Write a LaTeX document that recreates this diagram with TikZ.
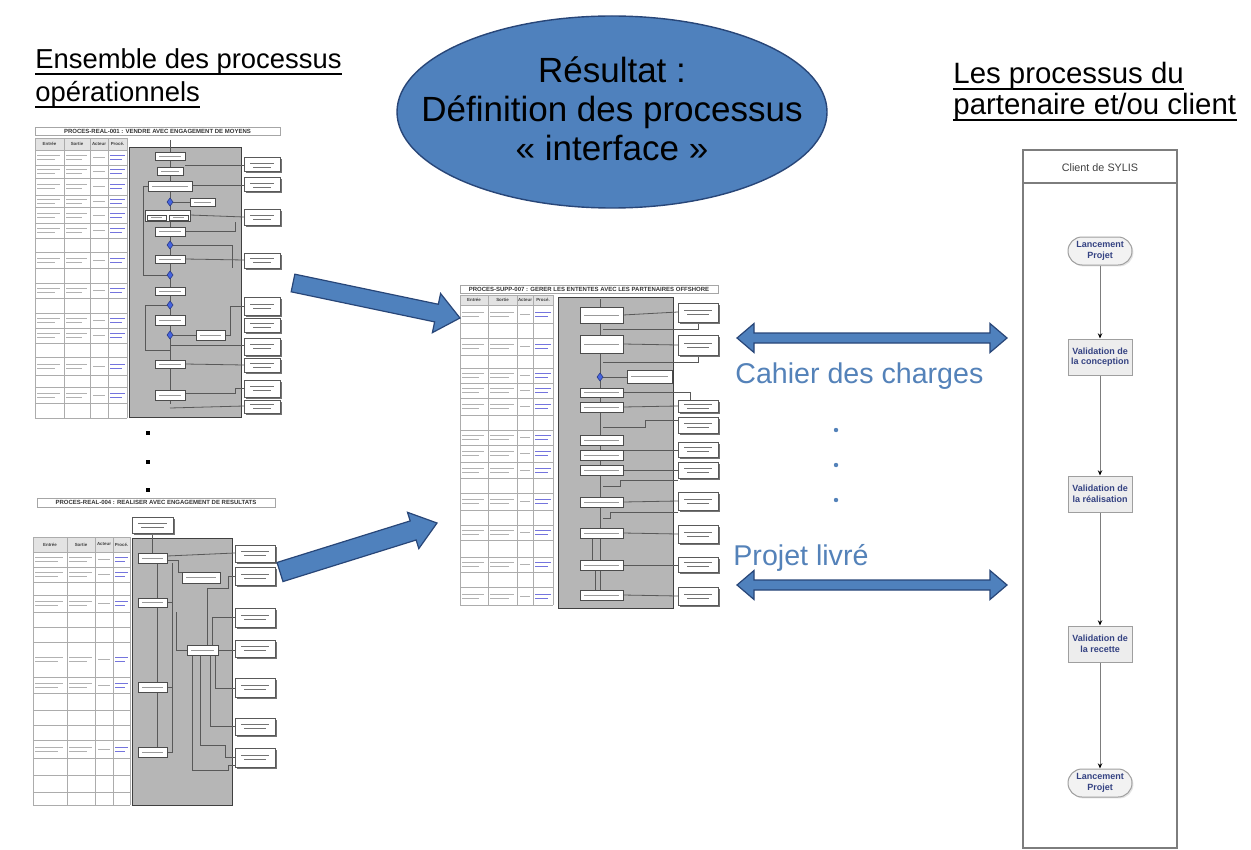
\documentclass[tikz,border=0pt]{standalone}
\usepackage{fontspec}
\setmainfont{Liberation Sans}
\usetikzlibrary{shapes.geometric,arrows.meta,calc,shadows}
\definecolor{slideblue}{RGB}{79,129,189}
\definecolor{slidebluedark}{RGB}{40,70,120}
\definecolor{bluetext}{RGB}{84,130,185}
\definecolor{procgray}{RGB}{182,182,182}
\definecolor{lanenavy}{RGB}{52,66,130}
\definecolor{laneline}{RGB}{125,125,125}
\definecolor{linkblue}{RGB}{70,70,210}
\definecolor{diamblue}{RGB}{70,100,225}

\tikzset{
  slidetitle/.style={anchor=base west, inner sep=0pt, font=\fontsize{13.7}{16}\selectfont},
  righttitle/.style={anchor=base west, inner sep=0pt, font=\fontsize{14.7}{16}\selectfont},
  uline/.style={line width=1.1pt, black},
  bigtext/.style={align=center, inner sep=0pt, font=\fontsize{17.5}{19.5}\selectfont},
  bluelabel/.style={anchor=base west, inner sep=0pt, text=bluetext, font=\fontsize{14.3}{16}\selectfont},
  blockarrow/.style={fill=slideblue, draw=slidebluedark, line width=0.6pt, line join=miter},
  lane/.style={draw=laneline, line width=0.6pt},
  lanebox/.style={draw=gray!75, fill=gray!14, line width=0.5pt, minimum width=32pt, minimum height=18pt,
    inner sep=0pt, align=center, text=lanenavy, font=\fontsize{4.5}{5.3}\selectfont\bfseries,
    drop shadow={shadow xshift=0.7pt, shadow yshift=-0.7pt, fill=gray!45}},
  lanestart/.style={lanebox, minimum height=14pt, rounded corners=7pt, fill=gray!10},
  lanearrow/.style={draw=laneline, line width=0.5pt, -{Stealth[length=2.6pt, width=2.2pt, color=black]}},
  ttitle/.style={inner sep=0pt, font=\fontsize{3}{3.5}\selectfont\bfseries, text=black!80},
  thd/.style={inner sep=0pt, font=\fontsize{2.2}{2.5}\selectfont\bfseries, text=black!75},
  tline/.style={draw=gray!65, line width=0.3pt},
  tbar/.style={draw=gray!60, line width=0.45pt},
  lbar/.style={draw=linkblue!75, line width=0.45pt},
  pgray/.style={fill=procgray, draw=gray!50!black, line width=0.35pt},
  ibox/.style={fill=white, draw=black!70, line width=0.35pt},
  conn/.style={draw=black!65, line width=0.4pt},
  dotmark/.style={fill=black, inner sep=0pt, minimum size=1.6pt},
  bluedot/.style={circle, fill=bluetext, inner sep=0pt, minimum size=2.2pt},
}

% inner process box
\newcommand\ibx[4]{\filldraw[ibox] (#1,#2) rectangle (#3,#4);
  \draw[tbar,gray!80] ({#1+4},{(#2+#4)/2}) -- ({#3-4},{(#2+#4)/2});}
% right box with shadow
\newcommand\rbx[4]{\fill[black!55] ({#1+1.5},{#2+1.5}) rectangle ({#3+1.5},{#4+1.5});
  \filldraw[fill=white,draw=black!65,line width=0.5pt] (#1,#2) rectangle (#3,#4);
  \draw[tbar,black!55] ({#1+6},{(#2+#4)/2-2}) -- ({#3-6},{(#2+#4)/2-2})
    ({#1+9},{(#2+#4)/2+2}) -- ({#3-9},{(#2+#4)/2+2});}
% decision diamond
\newcommand\dmd[2]{\filldraw[fill=diamblue,draw=diamblue!60!black,line width=0.3pt]
  (#1,{#2-4}) -- ({#1+3},#2) -- (#1,{#2+4}) -- ({#1-3},#2) -- cycle;}
% pseudo text in a table row
\newcommand\rowbars[6]{%
  \draw[tbar] ({#1+2},{#6-2}) -- ({#2-4},{#6-2}) ({#1+2},{#6+2}) -- ({#2-9},{#6+2});
  \draw[tbar] ({#2+2},{#6-2}) -- ({#3-3},{#6-2}) ({#2+2},{#6+2}) -- ({#3-8},{#6+2});
  \draw[tbar] ({#3+3},#6) -- ({#4-3},#6);
  \draw[lbar] ({#4+2},{#6-2}) -- ({#5-2},{#6-2}) ({#4+2},{#6+2}) -- ({#5-5},{#6+2});}
% block arrow: tail x, tail y, angle, length, shaft half, head half, head length
\newcommand\blockarr[7]{\begin{scope}[shift={(#1,#2)},rotate=#3]
  \filldraw[blockarrow] (0,-#5) -- ({#4-#7},-#5) -- ({#4-#7},-#6) -- (#4,0) -- ({#4-#7},#6)
    -- ({#4-#7},#5) -- (0,#5) -- cycle;
  \end{scope}}
% double block arrow: x0, x1, y, shaft half, head half, head length
\newcommand\dblarr[6]{\filldraw[blockarrow] (#1,#3) -- ({#1+#6},{#3-#5}) -- ({#1+#6},{#3-#4})
  -- ({#2-#6},{#3-#4}) -- ({#2-#6},{#3-#5}) -- (#2,#3) -- ({#2-#6},{#3+#5}) -- ({#2-#6},{#3+#4})
  -- ({#1+#6},{#3+#4}) -- ({#1+#6},{#3+#5}) -- cycle;}

\begin{document}
\begin{tikzpicture}[x=0.5pt,y=-0.5pt]
\useasboundingbox (0,0) rectangle (1251,850);
\fill[white] (0,0) rectangle (1251,850);

% ---------------- titles ----------------
\node[slidetitle] (lt1) at (35,69) {Ensemble des processus};
\node[slidetitle] (lt2) at (35,102) {opérationnels};
\draw[uline] ($(lt1.base west)+(0,5)$) -- ($(lt1.base east)+(0,5)$);
\draw[uline] ($(lt2.base west)+(0,5)$) -- ($(lt2.base east)+(0,5)$);

\node[righttitle] (rt1) at (953,84) {Les processus du};
\node[righttitle] (rt2) at (953,115) {partenaire et/ou client};
\draw[uline] ($(rt1.base west)+(0,5)$) -- ($(rt1.base east)+(0,5)$);
\draw[uline] ($(rt2.base west)+(0,5)$) -- ($(rt2.base east)+(0,5)$);

% ---------------- ellipse ----------------
\node[ellipse, fill=slideblue, draw=slidebluedark, line width=0.7pt,
      minimum width=215pt, minimum height=96pt, inner sep=0pt] (res) at (612,112) {};
\node[bigtext] (restext) at (612,109) {Résultat :\\Définition des processus\\« interface »};

% ---------------- thumbnail 1 ----------------
\filldraw[fill=white,draw=gray!70,line width=0.4pt] (35,127) rectangle (280,135);
\node[ttitle] (t1title) at (157.5,131) {PROCES-REAL-001 : VENDRE AVEC ENGAGEMENT DE MOYENS};
\fill[gray!22] (35,138) rectangle (127,150);
\foreach \x in {35,64,90,108,127} \draw[tline] (\x,138) -- (\x,418);
\foreach \y in {138,150,165,178,195,207,223,238,252,268,283,298,313,328,343,357,375,387,403,418}
  \draw[tline] (35,\y) -- (127,\y);
\node[thd] (t1h1) at (49.5,144) {Entrée};
\node[thd] (t1h2) at (77,144) {Sortie};
\node[thd] (t1h3) at (99,144) {Acteur};
\node[thd] (t1h4) at (117.5,144) {Procé.};
\foreach \yc in {157.5,171.5,186.5,201,215,230.5,260,290.5,320.5,335.5,366,395}
  {\rowbars{35}{64}{90}{108}{127}{\yc}}
\filldraw[pgray] (129,147) rectangle (241,417);
\draw[conn] (170,140) -- (170,404);
\draw[conn] (148,186) -- (143,186) -- (143,275) -- (167,275);
\draw[conn] (167,305) -- (145,305) -- (145,350) -- (170,350);
\draw[conn] (185,165) -- (244,165);
\draw[conn] (192,185) -- (244,185);
\draw[conn] (173,202) -- (190,202);
\draw[conn] (190,215) -- (244,217);
\draw[conn] (185,231) -- (235,231) -- (235,222);
\draw[conn] (173,245) -- (232,245) -- (232,268);
\draw[conn] (185,259) -- (244,260);
\draw[conn] (173,335) -- (196,335);
\draw[conn] (225,335) -- (230,335) -- (230,306) -- (244,306);
\draw[conn] (170,345) -- (244,345);
\draw[conn] (185,364) -- (244,365);
\draw[conn] (185,393) -- (235,393) -- (235,388) -- (244,388);
\draw[conn] (170,408) -- (244,406);
\ibx{155}{152}{185}{160}
\ibx{157}{167}{183}{175}
\ibx{148}{181}{192}{191}
\ibx{190}{198}{215}{206}
\filldraw[ibox] (145,210) rectangle (190,221);
\ibx{147}{215}{166}{220}
\ibx{169}{215}{188}{220}
\ibx{155}{227}{185}{236}
\ibx{155}{255}{185}{263}
\ibx{155}{287}{185}{295}
\ibx{155}{315}{185}{325}
\ibx{196}{330}{225}{340}
\ibx{155}{360}{185}{368}
\ibx{155}{390}{185}{400}
\dmd{170}{202}\dmd{170}{245}\dmd{170}{275}\dmd{170}{305}\dmd{170}{335}
\rbx{244}{158}{280}{172}\rbx{244}{178}{280}{192}\rbx{244}{210}{280}{225}
\rbx{244}{253}{280}{268}\rbx{244}{297}{280}{315}\rbx{244}{318}{280}{332}
\rbx{244}{338}{280}{355}\rbx{244}{358}{280}{372}\rbx{244}{380}{280}{397}
\rbx{244}{400}{280}{413}

% dots between thumbnails
\node[dotmark] (d1) at (148,433) {};
\node[dotmark] (d2) at (148,462) {};
\node[dotmark] (d3) at (148,490) {};

% ---------------- thumbnail 2 ----------------
\filldraw[fill=white,draw=gray!70,line width=0.4pt] (37,498) rectangle (275,507);
\node[ttitle] (t2title) at (156,502.5) {PROCES-REAL-004 : REALISER AVEC ENGAGEMENT DE RESULTATS};
\fill[gray!22] (33,537) rectangle (130,552);
\foreach \x in {33,67,95,113,130} \draw[tline] (\x,537) -- (\x,805);
\foreach \y in {537,552,567,582,595,612,627,642,677,693,710,725,740,758,775,792,805}
  \draw[tline] (33,\y) -- (130,\y);
\node[thd] (t2h1) at (50,544.5) {Entrée};
\node[thd] (t2h2) at (81,544.5) {Sortie};
\node[thd] (t2h3) at (104,544.5) {Acteur};
\node[thd] (t2h4) at (121.5,544.5) {Procé.};
\foreach \yc in {559.5,574.5,603.5,659.5,685,749}
  {\rowbars{33}{67}{95}{113}{130}{\yc}}
\filldraw[pgray] (132,538) rectangle (232,805);
\draw[conn] (152,533) -- (152,553);
\draw[conn] (157,563) -- (157,747);
\draw[conn] (167,556) -- (235,553);
\draw[conn] (167,560) -- (178,560) -- (178,572) -- (182,572);
\draw[conn] (172,563) -- (172,752) -- (167,752);
\draw[conn] (172,602) -- (167,602);
\draw[conn] (172,687) -- (167,687);
\draw[conn] (218,650) -- (235,650);
\draw[conn] (212,645) -- (212,617) -- (235,617);
\draw[conn] (207,645) -- (207,588) -- (228,588) -- (228,576) -- (235,576);
\draw[conn] (215,655) -- (215,688) -- (235,688);
\draw[conn] (210,655) -- (210,726) -- (235,726);
\draw[conn] (200,655) -- (200,745) -- (225,745) -- (225,757) -- (235,757);
\draw[conn] (192,655) -- (192,770) -- (228,770) -- (228,765) -- (235,765);
\draw[conn] (187,650) -- (176,650) -- (176,612);
\rbx{132}{517}{173}{533}
\ibx{138}{553}{167}{563}
\ibx{138}{598}{167}{607}
\ibx{138}{682}{167}{692}
\ibx{138}{747}{167}{757}
\ibx{182}{572}{220}{583}
\ibx{187}{645}{218}{655}
\rbx{235}{545}{275}{562}\rbx{235}{567}{275}{585}\rbx{235}{608}{275}{627}
\rbx{235}{640}{275}{657}\rbx{235}{678}{275}{697}\rbx{235}{718}{275}{735}
\rbx{235}{748}{275}{767}

% ---------------- thumbnail 3 ----------------
\filldraw[fill=white,draw=gray!70,line width=0.4pt] (460,285) rectangle (718,293);
\node[ttitle] (t3title) at (589,289) {PROCES-SUPP-007 : GERER LES ENTENTES AVEC LES PARTENAIRES OFFSHORE};
\fill[gray!22] (460,295) rectangle (553,305);
\foreach \x in {460,488,517,533,553} \draw[tline] (\x,295) -- (\x,605);
\foreach \y in {295,305,323,338,355,368,383,398,415,430,445,462,478,493,510,525,540,557,572,587,605}
  \draw[tline] (460,\y) -- (553,\y);
\node[thd] (t3h1) at (474,300) {Entrée};
\node[thd] (t3h2) at (502.5,300) {Sortie};
\node[thd] (t3h3) at (525,300) {Acteur};
\node[thd] (t3h4) at (543,300) {Procé.};
\foreach \yc in {314,346.5,375.5,390.5,406.5,437.5,453.5,470,501.5,532.5,564.5,596}
  {\rowbars{460}{488}{517}{533}{553}{\yc}}
\filldraw[pgray] (558,297) rectangle (673,608);
\draw[conn] (600,299) -- (600,590);
\draw[conn] (623,315) -- (678,312);
\draw[conn] (698,322) -- (698,329) -- (603,329);
\draw[conn] (623,344) -- (678,345);
\draw[conn] (698,355) -- (698,362) -- (603,362);
\draw[conn] (603,377) -- (627,377);
\draw[conn] (623,392) -- (690,392) -- (690,400);
\draw[conn] (623,407) -- (678,406);
\draw[conn] (678,420) -- (645,420) -- (645,427) -- (603,427);
\draw[conn] (623,450) -- (678,450);
\draw[conn] (623,470) -- (678,470);
\draw[conn] (678,480) -- (620,480) -- (620,486) -- (603,486);
\draw[conn] (623,502) -- (678,501);
\draw[conn] (678,512) -- (610,512) -- (610,518) -- (603,518);
\draw[conn] (623,533) -- (678,534);
\draw[conn] (592,538) -- (592,560);
\draw[conn] (623,565) -- (678,565);
\draw[conn] (595,570) -- (595,590);
\draw[conn] (623,595) -- (678,596);
\ibx{580}{307}{623}{323}
\ibx{580}{335}{623}{353}
\ibx{580}{388}{623}{397}
\ibx{580}{402}{623}{412}
\ibx{580}{435}{623}{445}
\ibx{580}{450}{623}{460}
\ibx{580}{465}{623}{475}
\ibx{580}{497}{623}{507}
\ibx{580}{528}{623}{538}
\ibx{580}{560}{623}{570}
\ibx{580}{590}{623}{600}
\ibx{627}{370}{672}{383}
\dmd{600}{377}
\rbx{678}{303}{718}{322}\rbx{678}{335}{718}{355}\rbx{678}{400}{718}{412}
\rbx{678}{417}{718}{433}\rbx{678}{442}{718}{457}\rbx{678}{462}{718}{478}
\rbx{678}{492}{718}{510}\rbx{678}{525}{718}{543}\rbx{678}{557}{718}{572}
\rbx{678}{587}{718}{605}

% ---------------- block arrows ----------------
\blockarr{293}{283}{-11.84}{170.6}{9}{20}{24}
\blockarr{280}{572}{17.33}{164.5}{10}{19}{25}
\dblarr{737}{1007}{338}{5}{14.5}{17}
\dblarr{737}{1007}{585}{5}{14.5}{17}

% ---------------- centre labels ----------------
\node[bluelabel] (cdc) at (735,383) {Cahier des charges};
\node[bluelabel] (pl) at (733,565) {Projet livré};
\node[bluedot] (c1) at (836,430) {};
\node[bluedot] (c2) at (836,465) {};
\node[bluedot] (c3) at (836,500) {};

% ---------------- client lane ----------------
\draw[lane] (1023,150) rectangle (1177,848);
\draw[lane] (1023,183) -- (1177,183);
\node[inner sep=0pt, text=black!75, font=\fontsize{5.4}{6}\selectfont] (lanehead) at (1100,168) {Client de SYLIS};
\node[lanestart] (l1) at (1100,251) {Lancement\\Projet};
\node[lanebox] (l2) at (1100,357) {Validation de\\la conception};
\node[lanebox] (l3) at (1100,494) {Validation de\\la réalisation};
\node[lanebox] (l4) at (1100,644) {Validation de\\la recette};
\node[lanestart] (l5) at (1100,783) {Lancement\\Projet};
\draw[lanearrow] (l1) -- (l2);
\draw[lanearrow] (l2) -- (l3);
\draw[lanearrow] (l3) -- (l4);
\draw[lanearrow] (l4) -- (l5);
\end{tikzpicture}
\end{document}
